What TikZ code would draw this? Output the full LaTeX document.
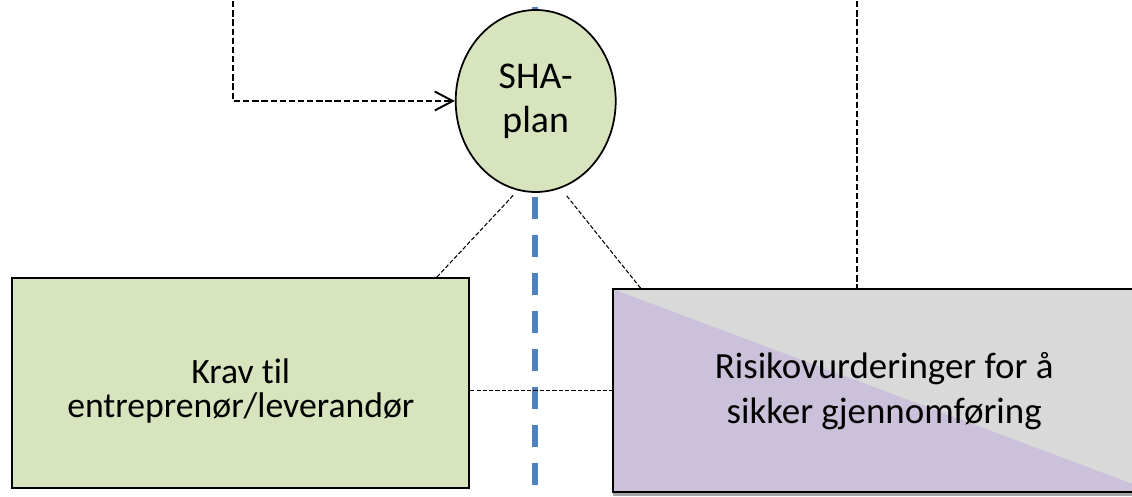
\documentclass[tikz,border=0pt]{standalone}
\usepackage{fontspec}
\setmainfont{Carlito}[Ligatures=NoCommon]
\usetikzlibrary{arrows.meta, calc, positioning, shapes.geometric, shadows}

\definecolor{shagreen}{RGB}{215,228,189}
\definecolor{riskpurple}{RGB}{204,193,218}
\definecolor{riskgrey}{RGB}{217,217,217}
\definecolor{dividerblue}{RGB}{79,129,189}

\tikzset{
  plannode/.style={ellipse, draw=black, line width=1pt, fill=shagreen,
    minimum width=3.2cm, minimum height=3.64cm, inner sep=0pt, align=center,
    font=\fontsize{21.5}{25.2}\selectfont},
  kravbox/.style={rectangle, draw=black, line width=1pt, fill=shagreen,
    minimum width=9.14cm, minimum height=4.2cm},
  kravtext/.style={align=center, font=\fontsize{20.3}{19.4}\selectfont},
  riskbox/.style={rectangle, draw=black, line width=1pt, fill=riskgrey,
    minimum width=10.834cm, minimum height=4.06cm, align=center,
    font=\fontsize{21}{25.6}\selectfont,
    drop shadow={shadow xshift=0pt, shadow yshift=-0.08cm, fill=black, opacity=0.35},
    path picture={\fill[riskpurple] (path picture bounding box.north west)
      -- (path picture bounding box.south east) -- (path picture bounding box.south west) -- cycle;}},
  arrowlink/.style={line width=1.1pt, dash pattern=on 3.6pt off 1.6pt,
    -{Straight Barb[length=0.36cm, width=0.38cm]}},
  dashlink/.style={line width=1.1pt, dash pattern=on 3.6pt off 1.6pt},
  thinlink/.style={line width=0.6pt, dash pattern=on 2.4pt off 1.2pt},
  divider/.style={dividerblue, line width=3.4pt, dash pattern=on 0.44cm off 0.32cm}
}

\begin{document}
\begin{tikzpicture}[line cap=butt]
  \useasboundingbox (0,0) rectangle (22.64,9.94);
  \clip (0,0) rectangle (22.64,9.94);

  % blue divider behind the plan
  \coordinate (divtop) at (10.70,9.80);
  \coordinate (divbot) at (10.70,0.20);
  \draw[divider] (divtop) -- (divbot);

  \node[plannode] (sha) at (10.714,7.92) {SHA-\\plan};
  \node[kravbox, label={[kravtext, name=kravlabel, yshift=-0.16cm]center:{Krav til\\entreprenør/leverandør}}] (krav) at (4.816,2.274) {};
  \node[riskbox] (risk) at (17.683,2.124) {Risikovurderinger for å\\sikker gjennomføring};

  % connectors
  \coordinate (planin) at (4.666,10.1);
  \coordinate (riskin) at (17.134,10.1);
  \draw[arrowlink] (planin) |- (sha.west);
  \draw[dashlink] (riskin) -- (riskin |- risk.north);
  \draw[thinlink] ([shift={(-0.45,-0.05)}]sha.south) -- ([xshift=-0.672cm]krav.north east);
  \draw[thinlink] ([shift={(0.62,-0.06)}]sha.south) -- ([xshift=0.568cm]risk.north west);
  \draw[thinlink] (krav.east |- risk.west) -- (risk.west);
\end{tikzpicture}
\end{document}
